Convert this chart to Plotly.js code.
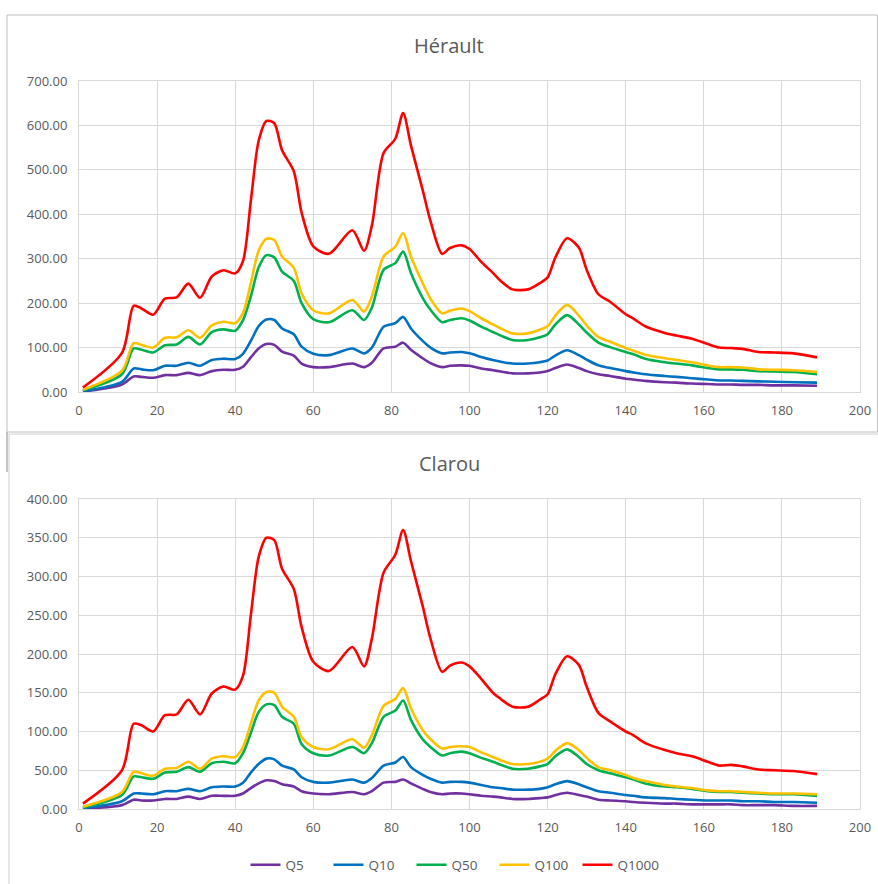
<!DOCTYPE html>
<html>
<head>
<meta charset="utf-8">
<script src="https://cdn.plot.ly/plotly-3.0.1.min.js"></script>
<style>html,body{margin:0;padding:0;background:#fff;}#chart{width:878px;height:884px;}</style>
</head>
<body>
<div id="chart"></div>
<script>
// Distance axis (shared by both stations)
const xPts = [1, 11, 14, 16, 19, 22, 25, 28, 31, 34, 37, 40, 42, 44, 46, 48, 50, 52, 55, 57, 60, 64, 70, 73, 75, 78, 81, 83, 85, 88, 90, 93, 95, 98, 100, 103, 106, 108, 111, 115, 118, 120, 122, 125, 128, 130, 133, 136, 140, 142, 145, 150, 153, 157, 161, 164, 167, 170, 174, 178, 183, 189];

const seriesNames = ["Q5", "Q10", "Q50", "Q100", "Q1000"];
const seriesColors = ["#7030A0", "#0070C0", "#00B050", "#FFC000", "#FF0000"];

// Hérault
const heraultQ1000 = [10, 88, 194, 188, 174, 210, 213, 244, 212, 260, 274, 267, 295, 430, 565, 610, 605, 544, 497, 404, 328, 311, 364, 318, 375, 538, 570, 628, 555, 455, 385, 311, 324, 330, 322, 293, 268, 250, 231, 231, 245, 258, 303, 346, 325, 275, 220, 203, 175, 165, 148, 133, 127, 120, 108, 100, 99, 97, 90, 89, 87, 78];
const heraultQ100 = [5, 48, 110, 106, 100, 122, 123, 139, 122, 150, 158, 155, 178, 245, 318, 345, 342, 305, 280, 222, 184, 177, 207, 181, 215, 305, 327, 358, 305, 245, 210, 177, 183, 188, 182, 166, 152, 143, 132, 132, 140, 148, 172, 196, 172, 150, 124, 113, 99, 93, 84, 76, 72, 67, 60, 56, 56, 55, 51, 50, 49, 45];
const heraultQ50 = [4, 40, 98, 95, 89, 105, 107, 124, 107, 135, 141, 138, 162, 215, 280, 308, 303, 271, 250, 200, 164, 157, 184, 162, 190, 275, 290, 316, 268, 212, 185, 157, 162, 166, 161, 147, 135, 127, 117, 117, 123, 130, 152, 173, 152, 134, 111, 101, 90, 85, 75, 67, 64, 60, 54, 51, 51, 50, 47, 46, 45, 40];
const heraultQ10 = [2, 23, 53, 51, 49, 59, 59, 66, 59, 72, 75, 74, 86, 115, 148, 163, 162, 143, 130, 102, 86, 83, 98, 87, 100, 147, 155, 169, 143, 115, 100, 87, 89, 90, 87, 79, 72, 68, 64, 64, 67, 71, 82, 94, 83, 73, 60, 54, 47, 44, 40, 36, 34, 31, 28, 26, 26, 25, 24, 23, 22, 21];
const heraultQ5 = [1, 17, 35, 34, 32, 38, 38, 43, 38, 47, 50, 50, 57, 78, 98, 108, 106, 91, 82, 64, 56, 56, 64, 56, 66, 98, 102, 111, 95, 76, 65, 56, 59, 60, 59, 53, 49, 46, 42, 42, 44, 47, 54, 62, 54, 47, 40, 36, 30, 28, 25, 22, 21, 19, 18, 17, 17, 16, 16, 15, 15, 14];

// Clarou
const clarouQ1000 = [7, 50, 110, 108, 100, 121, 122, 141, 122, 149, 158, 154, 172, 250, 325, 350, 347, 310, 284, 235, 190, 178, 209, 184, 220, 305, 328, 360, 320, 262, 220, 177, 185, 189, 184, 168, 150, 142, 132, 132, 141, 148, 174, 197, 186, 158, 124, 113, 100, 95, 85, 76, 72, 68, 61, 56, 57, 55, 51, 50, 49, 45];
const clarouQ100 = [3, 22, 48, 46, 43, 52, 53, 61, 52, 65, 68, 67, 80, 110, 140, 151, 150, 132, 119, 93, 80, 77, 90, 79, 95, 133, 142, 156, 130, 102, 90, 78, 80, 81, 80, 73, 67, 63, 58, 58, 61, 65, 75, 85, 76, 66, 54, 50, 44, 40, 36, 31, 29, 27, 24, 23, 23, 22, 21, 20, 20, 19];
const clarouQ50 = [2, 18, 42, 41, 39, 47, 48, 54, 48, 59, 61, 59, 72, 98, 125, 135, 134, 119, 110, 84, 72, 69, 80, 72, 85, 119, 127, 140, 115, 90, 80, 69, 72, 74, 72, 66, 61, 57, 52, 52, 55, 58, 68, 77, 67, 58, 50, 46, 41, 38, 33, 29, 28, 26, 23, 22, 22, 21, 20, 19, 19, 17];
const clarouQ10 = [1, 10, 20, 20, 19, 23, 23, 26, 23, 28, 29, 29, 34, 47, 58, 65, 64, 56, 51, 41, 35, 34, 38, 34, 40, 56, 60, 67, 54, 44, 39, 34, 35, 35, 34, 31, 28, 27, 25, 25, 26, 28, 32, 36, 32, 28, 23, 21, 18, 17, 15, 14, 13, 12, 11, 11, 11, 10, 10, 9, 9, 8];
const clarouQ5 = [0.5, 5, 12, 11, 11, 13, 13, 16, 13, 17, 17, 17, 20, 27, 33, 37, 36, 32, 29, 23, 20, 19, 22, 19, 23, 34, 35, 38, 33, 26, 22, 19, 20, 20, 19, 17, 16, 15, 13, 13, 14, 15, 18, 21, 18, 16, 12, 11, 10, 9, 8, 7, 7, 6, 6, 6, 6, 5, 5, 5, 4, 4];

const heraultSeries = [heraultQ5, heraultQ10, heraultQ50, heraultQ100, heraultQ1000];
const clarouSeries = [clarouQ5, clarouQ10, clarouQ50, clarouQ100, clarouQ1000];

const traces = [];
heraultSeries.forEach((ys, i) => {
  traces.push({
    x: xPts, y: ys, type: 'scatter', mode: 'lines', name: seriesNames[i],
    line: {color: seriesColors[i], width: 2.6, shape: 'spline', smoothing: 0.8},
    xaxis: 'x', yaxis: 'y', showlegend: false, legendgroup: seriesNames[i], hoverinfo: 'skip'
  });
});
clarouSeries.forEach((ys, i) => {
  traces.push({
    x: xPts, y: ys, type: 'scatter', mode: 'lines', name: seriesNames[i],
    line: {color: seriesColors[i], width: 2.6, shape: 'spline', smoothing: 0.8},
    xaxis: 'x2', yaxis: 'y2', showlegend: true, legendgroup: seriesNames[i], hoverinfo: 'skip'
  });
});

const W = 878, H = 884;
const px = v => v / W;
const py = v => 1 - v / H;
const tickFont = {family: 'Open Sans, Liberation Sans, sans-serif', size: 13, color: '#595959'};
const gridC = '#d9d9d9';

const xAxisBase = {
  range: [0, 200], dtick: 20, tick0: 0, showgrid: true, gridcolor: gridC, gridwidth: 1,
  zeroline: false, showline: true, linecolor: gridC, linewidth: 1, mirror: true,
  ticks: '', tickfont: tickFont, fixedrange: true, ticklabelstandoff: 6
};
const yAxisBase = {
  showgrid: true, gridcolor: gridC, gridwidth: 1, zeroline: false, showline: true,
  linecolor: gridC, linewidth: 1, mirror: true, ticks: '', tickfont: tickFont,
  tickformat: '.2f', fixedrange: true, ticklabelstandoff: 8
};

const layout = {
  width: W, height: H,
  margin: {l: 0, r: 0, t: 0, b: 0},
  paper_bgcolor: '#ffffff', plot_bgcolor: '#ffffff',
  font: {family: 'Open Sans, Liberation Sans, sans-serif', color: '#595959'},
  xaxis: Object.assign({}, xAxisBase, {domain: [px(79), px(860)], anchor: 'y'}),
  yaxis: Object.assign({}, yAxisBase, {domain: [py(392), py(81)], range: [0, 700], dtick: 100, anchor: 'x'}),
  xaxis2: Object.assign({}, xAxisBase, {domain: [px(79), px(860)], anchor: 'y2'}),
  yaxis2: Object.assign({}, yAxisBase, {domain: [py(809), py(499)], range: [0, 400], dtick: 50, anchor: 'x2'}),
  showlegend: true,
  legend: {
    orientation: 'h', x: px(453), xanchor: 'center', y: py(865), yanchor: 'middle',
    font: {family: 'Open Sans, Liberation Sans, sans-serif', size: 13.5, color: '#595959'},
    traceorder: 'normal', itemwidth: 30, entrywidth: 38, entrywidthmode: 'pixels', bgcolor: 'rgba(0,0,0,0)'
  },
  annotations: [
    {text: 'Hérault', xref: 'paper', yref: 'paper', x: px(449), y: py(45), xanchor: 'center', yanchor: 'middle', showarrow: false,
     font: {family: 'Open Sans, Liberation Sans, sans-serif', size: 20, color: '#595959'}},
    {text: 'Clarou', xref: 'paper', yref: 'paper', x: px(449), y: py(463), xanchor: 'center', yanchor: 'middle', showarrow: false,
     font: {family: 'Open Sans, Liberation Sans, sans-serif', size: 20, color: '#595959'}}
  ],
  shapes: [
    // frame of the top chart
    {type: 'rect', xref: 'paper', yref: 'paper', x0: px(7), x1: px(877.5), y0: py(432), y1: py(15),
     line: {color: '#bfbfbf', width: 1}, fillcolor: 'rgba(0,0,0,0)', layer: 'below'},
    {type: 'line', xref: 'paper', yref: 'paper', x0: px(7), x1: px(7), y0: py(472), y1: py(432),
     line: {color: '#8c8c8c', width: 1}},
    // frame of the bottom chart
    {type: 'line', xref: 'paper', yref: 'paper', x0: px(9), x1: px(878), y0: py(434), y1: py(434),
     line: {color: '#d0d0d0', width: 1}},
    {type: 'line', xref: 'paper', yref: 'paper', x0: px(9), x1: px(9), y0: py(884), y1: py(434),
     line: {color: '#d0d0d0', width: 1}}
  ]
};

Plotly.newPlot('chart', traces, layout, {staticPlot: true, displayModeBar: false});
</script>
</body>
</html>
